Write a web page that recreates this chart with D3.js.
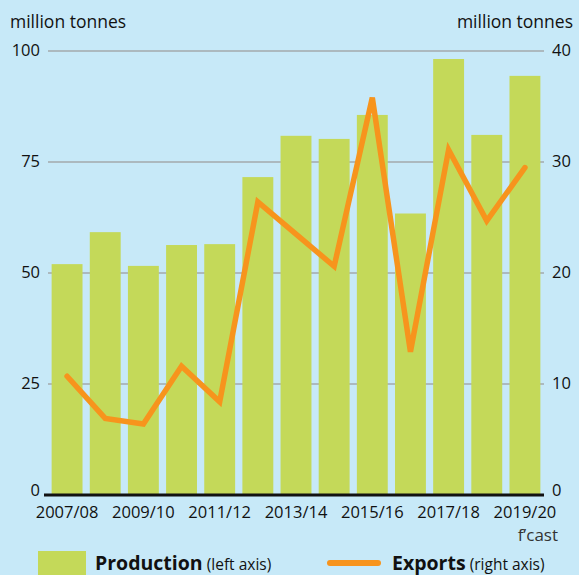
<!DOCTYPE html>
<html>
<head>
<meta charset="utf-8">
<script src="https://cdn.jsdelivr.net/npm/d3@7"></script>
<style>
  body { margin: 0; background: #c7e9f8; }
  svg { display: block; font-family: "Open Sans", "Noto Sans", sans-serif; }
</style>
</head>
<body>
<div class="container"></div>
<script>
const width = 579, height = 575;

const seasons = ["2007/08", "2008/09", "2009/10", "2010/11", "2011/12", "2012/13", "2013/14",
  "2014/15", "2015/16", "2016/17", "2017/18", "2018/19", "2019/20"];
const production = [52.0, 59.2, 51.6, 56.3, 56.5, 71.6, 80.9, 80.2, 85.6, 63.4, 98.2, 81.1, 94.4];
const exports = [10.7, 6.9, 6.4, 11.6, 8.4, 26.4, 23.5, 20.6, 35.8, 12.9, 31.1, 24.7, 29.5];
const leftTicks = [0, 25, 50, 75, 100];
const rightTicks = [0, 10, 20, 30, 40];
const xLabels = ["2007/08", "2009/10", "2011/12", "2013/14", "2015/16", "2017/18", "2019/20"];

const margin = {top: 51, right: 35, bottom: 80, left: 48};
const plotW = width - margin.left - margin.right;
const plotH = height - margin.top - margin.bottom;

const svg = d3.select(".container")
    .append("svg")
    .attr("width", width)
    .attr("height", height);

svg.append("rect").attr("width", width).attr("height", height).attr("fill", "#c7e9f8");

const x = d3.scaleBand().domain(seasons).range([margin.left, margin.left + plotW])
    .paddingInner(0.19).paddingOuter(0.095);
const yL = d3.scaleLinear().domain([0, 100]).range([margin.top + plotH, margin.top]);
const yR = d3.scaleLinear().domain([0, 40]).range([margin.top + plotH, margin.top]);

// grid
svg.append("g")
    .selectAll("line")
    .data(leftTicks.filter(d => d > 0))
    .join("line")
    .attr("x1", margin.left)
    .attr("x2", margin.left + plotW)
    .attr("y1", d => yL(d))
    .attr("y2", d => yL(d))
    .attr("stroke", "#a3a8ac")
    .attr("stroke-width", 1.5);

// bars
svg.append("g")
    .selectAll("rect")
    .data(production)
    .join("rect")
    .attr("x", (d, i) => x(seasons[i]))
    .attr("width", x.bandwidth())
    .attr("y", d => yL(d))
    .attr("height", d => yL(0) - yL(d))
    .attr("fill", "#c4d959");

// baseline
svg.append("line")
    .attr("x1", margin.left - 4).attr("x2", margin.left + plotW)
    .attr("y1", yL(0)).attr("y2", yL(0))
    .attr("stroke", "#111").attr("stroke-width", 3);

// exports line
const line = d3.line()
    .x((d, i) => x(seasons[i]) + x.bandwidth() / 2)
    .y(d => yR(d));

svg.append("path")
    .datum(exports)
    .attr("d", line)
    .attr("fill", "none")
    .attr("stroke", "#f7941d")
    .attr("stroke-width", 5.5)
    .attr("stroke-linecap", "round")
    .attr("stroke-linejoin", "miter");

// axes
const leftAxis = svg.append("g")
    .attr("transform", `translate(${margin.left},0)`)
    .call(d3.axisLeft(yL).tickValues(leftTicks).tickSize(0).tickPadding(8));
const rightAxis = svg.append("g")
    .attr("transform", `translate(${margin.left + plotW},0)`)
    .call(d3.axisRight(yR).tickValues(rightTicks).tickSize(0).tickPadding(8));
const bottomAxis = svg.append("g")
    .attr("transform", `translate(0,${yL(0)})`)
    .call(d3.axisBottom(x).tickValues(xLabels).tickSize(0).tickPadding(11));

[leftAxis, rightAxis, bottomAxis].forEach(g => {
    g.attr("font-family", null);
    g.select(".domain").remove();
    g.selectAll("text").attr("font-size", 16.5).attr("fill", "#111");
});
// zero labels sit a little above the baseline, clear of the season labels
leftAxis.selectAll("text").attr("dy", d => d === 0 ? "0.05em" : "0.3em");
rightAxis.selectAll("text").attr("dy", d => d === 0 ? "0.05em" : "0.3em");

// axis titles
svg.append("text").attr("x", 10).attr("y", 28)
    .attr("font-size", 17.5).attr("fill", "#111").text("million tonnes");
svg.append("text").attr("x", 573).attr("y", 28).attr("text-anchor", "end")
    .attr("font-size", 17.5).attr("fill", "#111").text("million tonnes");
svg.append("text").attr("x", 558).attr("y", 541).attr("text-anchor", "end")
    .attr("font-size", 17).attr("fill", "#333").text("f\u2019cast");

// legend
svg.append("rect").attr("x", 38).attr("y", 551).attr("width", 48).attr("height", 24).attr("fill", "#c4d959");
const t1 = svg.append("text").attr("x", 95).attr("y", 570).attr("fill", "#111");
t1.append("tspan").attr("font-size", 19.5).attr("font-weight", "bold").text("Production");
t1.append("tspan").attr("font-size", 15.5).text(" (left axis)");

svg.append("line").attr("x1", 330).attr("x2", 378).attr("y1", 563).attr("y2", 563)
    .attr("stroke", "#f7941d").attr("stroke-width", 6).attr("stroke-linecap", "round");
const t2 = svg.append("text").attr("x", 392).attr("y", 570).attr("fill", "#111");
t2.append("tspan").attr("font-size", 19.5).attr("font-weight", "bold").text("Exports");
t2.append("tspan").attr("font-size", 15.5).text(" (right axis)");
</script>
</body>
</html>
